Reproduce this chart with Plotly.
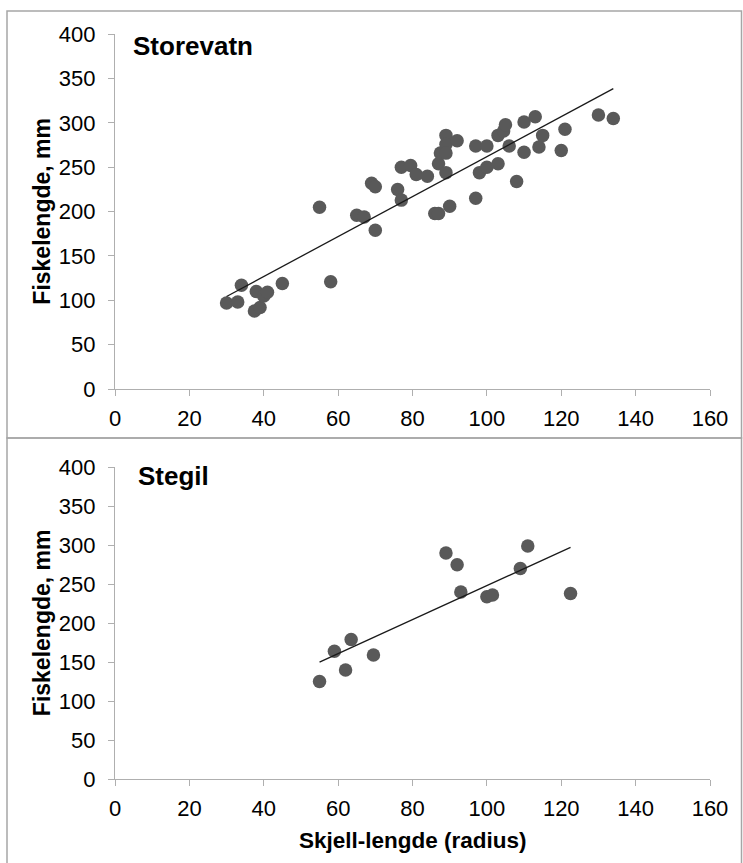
import numpy as np
import plotly.graph_objects as go

# ---------------- data ----------------
storevatn_x = [30, 33, 34, 37.5, 38, 39, 40, 41, 45, 55, 58, 65, 67, 69, 70, 70,
               76, 77, 77, 79.5, 81, 84, 86, 87, 87, 87.5, 89, 89, 89, 89, 90, 92,
               97, 97, 98, 100, 100, 103, 103, 104.5, 105, 106, 108, 110, 110, 113,
               114, 115, 120, 121, 130, 134]
storevatn_y = [97, 98, 117, 88, 110, 92, 105, 109, 119, 205, 121, 196, 194, 232, 228, 179,
               225, 213, 250, 252, 242, 240, 198, 198, 254, 266, 286, 276, 266, 244, 206, 280,
               215, 274, 244, 274, 250, 254, 286, 291, 298, 274, 234, 301, 267, 307,
               273, 286, 269, 293, 309, 305]

stegil_x = [55, 59, 62, 63.5, 69.5, 89, 92, 93, 100, 101.5, 109, 111, 122.5]
stegil_y = [125, 164, 140, 179, 159, 290, 275, 240, 234, 236, 270, 299, 238]

panel_titles = ["Storevatn", "Stegil"]
y_title = "Fiskelengde, mm"
x_title = "Skjell-lengde (radius)"
x_ticks = [0, 20, 40, 60, 80, 100, 120, 140, 160]
y_ticks = [0, 50, 100, 150, 200, 250, 300, 350, 400]

# ---------------- layout helpers ----------------
W, H = 743, 863
def px_x(p):
    return p / W
def px_y(p):
    return (H - p) / H

FONT = "Liberation Sans, Arial, sans-serif"
MARKER = "#595959"
AXIS = "#AFAFAF"
BORDER = "#A6A6A6"

fig = go.Figure()

def trend(xs, ys):
    k, b = np.polyfit(np.array(xs, float), np.array(ys, float), 1)
    tx = np.array([min(xs), max(xs)], float)
    return tx, k * tx + b

for i, (xs, ys) in enumerate([(storevatn_x, storevatn_y), (stegil_x, stegil_y)]):
    xa = "x" if i == 0 else "x2"
    ya = "y" if i == 0 else "y2"
    fig.add_trace(go.Scatter(x=xs, y=ys, mode="markers", xaxis=xa, yaxis=ya,
                             marker=dict(color=MARKER, size=13.5, line=dict(width=0)),
                             showlegend=False, hoverinfo="x+y"))
    tx, ty = trend(xs, ys)
    fig.add_trace(go.Scatter(x=tx, y=ty, mode="lines", xaxis=xa, yaxis=ya,
                             line=dict(color="#1a1a1a", width=1.3),
                             showlegend=False, hoverinfo="skip"))

xdom = [px_x(115), px_x(710)]
top_dom = [px_y(389), px_y(34.3)]
bot_dom = [px_y(779), px_y(467.3)]

xcommon = dict(range=[0, 160], tickvals=x_ticks, ticktext=[str(v) for v in x_ticks],
               showgrid=False, zeroline=False, showline=True, linecolor=AXIS, linewidth=1.3,
               ticks="outside", ticklen=6, tickcolor=AXIS, tickwidth=1.3,
               tickfont=dict(family=FONT, size=22, color="#000000"),
               ticklabelstandoff=3, fixedrange=True, automargin=False)
ycommon = dict(range=[0, 400], tickvals=y_ticks, ticktext=[str(v) for v in y_ticks],
               showgrid=False, zeroline=False, showline=True, linecolor=AXIS, linewidth=1.3,
               ticks="outside", ticklen=6, tickcolor=AXIS, tickwidth=1.3,
               tickfont=dict(family=FONT, size=22, color="#000000"),
               ticklabelstandoff=8, fixedrange=True, automargin=False)

fig.update_layout(
    width=W, height=H, autosize=False,
    margin=dict(l=0, r=0, t=0, b=0, pad=0, autoexpand=False),
    paper_bgcolor="white", plot_bgcolor="white",
    showlegend=False,
    xaxis=dict(domain=xdom, anchor="y", **xcommon),
    yaxis=dict(domain=top_dom, anchor="x", **ycommon),
    xaxis2=dict(domain=xdom, anchor="y2", **xcommon),
    yaxis2=dict(domain=bot_dom, anchor="x2", **ycommon),
)

# panel borders
fig.add_shape(type="rect", xref="paper", yref="paper",
              x0=px_x(7), x1=px_x(741.5), y0=px_y(438), y1=px_y(11),
              line=dict(color=BORDER, width=1.5), fillcolor="rgba(0,0,0,0)", layer="below")
fig.add_shape(type="rect", xref="paper", yref="paper",
              x0=px_x(7), x1=px_x(741.5), y0=px_y(880), y1=px_y(438),
              line=dict(color=BORDER, width=1.5), fillcolor="rgba(0,0,0,0)", layer="below")

# panel titles
fig.add_annotation(text="<b>%s</b>" % panel_titles[0], xref="paper", yref="paper",
                   x=px_x(131), y=px_y(46), xanchor="left", yanchor="middle", showarrow=False,
                   font=dict(family=FONT, size=26, color="#000000"))
fig.add_annotation(text="<b>%s</b>" % panel_titles[1], xref="paper", yref="paper",
                   x=px_x(136), y=px_y(476), xanchor="left", yanchor="middle", showarrow=False,
                   font=dict(family=FONT, size=26, color="#000000"))

# y titles
for dom in (top_dom, bot_dom):
    fig.add_annotation(text="<b>%s</b>" % y_title, xref="paper", yref="paper",
                       x=px_x(42), y=(dom[0] + dom[1]) / 2, xanchor="center", yanchor="middle",
                       textangle=-90, showarrow=False,
                       font=dict(family=FONT, size=23, color="#000000"))

# x title (bottom only)
fig.add_annotation(text="<b>%s</b>" % x_title, xref="paper", yref="paper",
                   x=px_x(413), y=px_y(840), xanchor="center", yanchor="middle", showarrow=False,
                   font=dict(family=FONT, size=22.5, color="#000000"))

fig.write_html("out.html")
